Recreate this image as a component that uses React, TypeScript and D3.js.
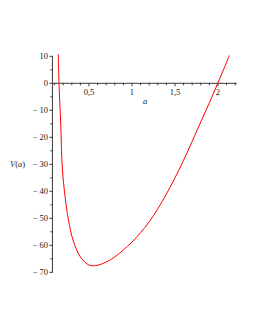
import React, { useRef, useEffect } from 'react';
import * as d3 from 'd3';

// values
const aValues = [0.143, 0.151, 0.17, 0.19, 0.22, 0.25, 0.3, 0.35, 0.4, 0.45, 0.5, 0.55, 0.6, 0.7, 0.8, 0.9, 1.0, 1.1, 1.2, 1.3, 1.4, 1.5, 1.6, 1.7, 1.8, 1.9, 2.0, 2.1, 2.131];
const vValues = [10.8, 0, -14, -31.5, -41.5, -48.5, -56.5, -61.2, -64.3, -66.2, -67.3, -67.6, -67.4, -66.2, -64.3, -61.7, -58.8, -55.3, -51.3, -46.5, -41.0, -35.0, -28.5, -21.5, -14.3, -7.2, 0.2, 7.8, 10.3];
const xTicks = [0.5, 1, 1.5, 2];
const xTickLabels = ['0,5', '1', '1,5', '2'];
const yTicks = [10, 0, -10, -20, -30, -40, -50, -60, -70];

const W = 255;
const H = 330;

const App: React.FC = () => {
    const svgRef = useRef<SVGSVGElement | null>(null);

    useEffect(() => {
        if (!svgRef.current) return;
        const svg = d3.select(svgRef.current);
        svg.selectAll('*').remove();

        const x = d3.scaleLinear().domain([0.075, 2.22]).range([52.45, 236.9]);
        const y = d3.scaleLinear().domain([-70, 10]).range([272.3, 56.3]);
        const axisColor = '#3a3a3a';
        const font = '"Liberation Serif", "DejaVu Serif", serif';

        // x axis along V = 0
        const xa = svg.append('g');
        xa.append('line')
            .attr('x1', x(0.075)).attr('x2', x(2.22))
            .attr('y1', y(0)).attr('y2', y(0))
            .attr('stroke', axisColor).attr('stroke-width', 1);
        const minorX = d3.range(1, 23).map(i => i / 10).filter(v => !xTicks.includes(v));
        xa.selectAll('.minor')
            .data(minorX)
            .enter().append('line')
            .attr('x1', d => x(d)).attr('x2', d => x(d))
            .attr('y1', y(0) - 0.5).attr('y2', y(0) + 2)
            .attr('stroke', axisColor).attr('stroke-width', 1);
        xa.selectAll('.major')
            .data(xTicks)
            .enter().append('line')
            .attr('x1', d => x(d)).attr('x2', d => x(d))
            .attr('y1', y(0) - 0.5).attr('y2', y(0) + 3)
            .attr('stroke', axisColor).attr('stroke-width', 1);
        xa.selectAll('.lbl')
            .data(xTicks)
            .enter().append('text')
            .attr('x', d => x(d)).attr('y', y(0) + 12)
            .attr('text-anchor', 'middle')
            .style('font-family', font).style('font-size', '8.5px')
            .attr('fill', '#222')
            .text((d, i) => xTickLabels[i]);
        xa.append('text')
            .attr('x', 145).attr('y', 104)
            .attr('text-anchor', 'middle')
            .style('font-family', font).style('font-size', '8.5px').style('font-style', 'italic')
            .attr('fill', '#222')
            .text('a');

        // y axis at left edge of the plotted range
        const ya = svg.append('g');
        ya.append('line')
            .attr('x1', x(0.075)).attr('x2', x(0.075))
            .attr('y1', y(10)).attr('y2', y(-70))
            .attr('stroke', axisColor).attr('stroke-width', 1);
        const minorY = d3.range(-65, 10, 10);
        ya.selectAll('.minor')
            .data(minorY)
            .enter().append('line')
            .attr('x1', x(0.075) - 2).attr('x2', x(0.075) + 0.5)
            .attr('y1', d => y(d)).attr('y2', d => y(d))
            .attr('stroke', axisColor).attr('stroke-width', 1);
        ya.selectAll('.major')
            .data(yTicks)
            .enter().append('line')
            .attr('x1', x(0.075) - 3).attr('x2', x(0.075) + 0.5)
            .attr('y1', d => y(d)).attr('y2', d => y(d))
            .attr('stroke', axisColor).attr('stroke-width', 1);
        ya.selectAll('.lbl')
            .data(yTicks)
            .enter().append('text')
            .attr('x', x(0.075) - 4.5).attr('y', d => y(d) + 3)
            .attr('text-anchor', 'end')
            .style('font-family', font).style('font-size', '8.5px')
            .attr('fill', '#222')
            .text(d => (d < 0 ? `\u2212\u2009${-d}` : `${d}`));
        const vl = ya.append('text')
            .attr('x', 10).attr('y', y(-30) + 3)
            .style('font-family', font).style('font-size', '8.5px')
            .attr('fill', '#222');
        vl.append('tspan').style('font-style', 'italic').text('V');
        vl.append('tspan').text('(');
        vl.append('tspan').style('font-style', 'italic').text('a');
        vl.append('tspan').text(')');

        // curve
        const pts: [number, number][] = aValues.map((a, i) => [a, vValues[i]]);
        const line = d3.line<[number, number]>()
            .x(d => x(d[0]))
            .y(d => y(d[1]))
            .curve(d3.curveCatmullRom.alpha(0.5));
        svg.append('path')
            .datum(pts)
            .attr('d', line)
            .attr('fill', 'none')
            .attr('stroke', '#ff0000')
            .attr('stroke-width', 1);
    }, []);

    return (
        <svg
            ref={svgRef}
            width={W}
            height={H}
            style={{ position: 'absolute', left: 0, top: 0, background: '#fff' }}
        ></svg>
    );
};

export default App;
